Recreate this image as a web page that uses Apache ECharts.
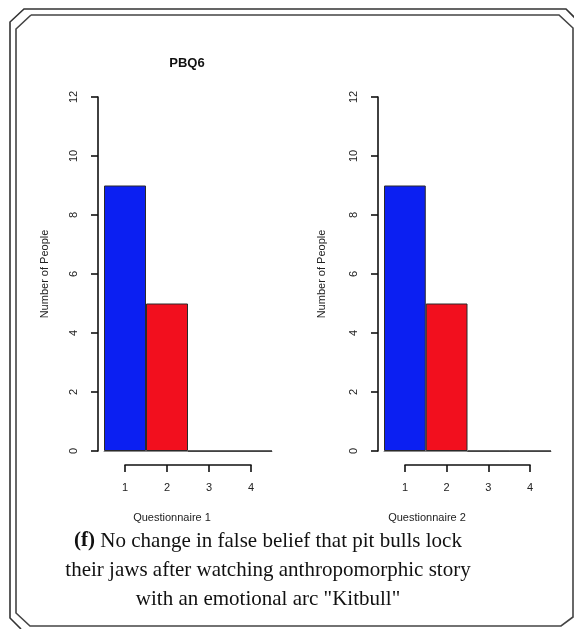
<!DOCTYPE html>
<html>
<head>
<meta charset="utf-8">
<script src="https://cdn.jsdelivr.net/npm/echarts@6/dist/echarts.min.js"></script>
<style>
  html, body { margin: 0; padding: 0; background: #fff; }
  #chart { width: 574px; height: 629px; }
</style>
</head>
<body>
<div id="chart"></div>
<script>
// Response counts per answer option (1-4) for PBQ6
const categories = ['1', '2', '3', '4'];
const questionnaire1 = [9, 5, 0, 0];
const questionnaire2 = [9, 5, 0, 0];
const xTickValues = [1, 2, 3, 4];
const panelNames = ['Questionnaire 1', 'Questionnaire 2'];
const plotTitle = 'PBQ6';
const yName = 'Number of People';

const BLUE = '#0b1ff2';
const RED = '#f20f1e';
const sans = '"Liberation Sans", Arial, sans-serif';
const serif = '"Liberation Serif", "Times New Roman", serif';

// panel geometry: bar grid + offset tick axis below it
const panels = [
  { left: 104, width: 168, tickLeft: 125, tickWidth: 126, data: questionnaire1, nameX: 172, yNameX: 45 },
  { left: 384, width: 167, tickLeft: 405, tickWidth: 125, data: questionnaire2, nameX: 427, yNameX: 322 }
];
const TOP = 97, HEIGHT = 354;

const grid = [], xAxis = [], yAxis = [], series = [];
panels.forEach((p, i) => {
  // bar grid
  grid.push({ left: p.left, top: TOP, width: p.width, height: HEIGHT });
  // tick axis grid (flat, sits below the bars)
  grid.push({ left: p.tickLeft, top: 464, width: p.tickWidth, height: 1 });

  xAxis.push({
    type: 'category', gridIndex: 2 * i, data: categories,
    boundaryGap: true,
    axisLine: { show: true, lineStyle: { color: '#8a8a8a', width: 1 } },
    axisTick: { show: false }, axisLabel: { show: false }
  });
  xAxis.push({
    type: 'value', gridIndex: 2 * i + 1,
    min: xTickValues[0], max: xTickValues[xTickValues.length - 1], interval: 1,
    position: 'bottom',
    axisLine: { show: true, lineStyle: { color: '#111', width: 1.6 } },
    axisTick: { show: true, length: 7, lineStyle: { color: '#111', width: 1.6 } },
    axisLabel: { show: true, margin: 17, color: '#222', fontFamily: sans, fontSize: 11 },
    splitLine: { show: false }
  });

  yAxis.push({
    type: 'value', gridIndex: 2 * i, min: 0, max: 12, interval: 2,
    offset: 6,
    axisLine: { show: true, lineStyle: { color: '#111', width: 1.6 } },
    axisTick: { show: true, length: 7, lineStyle: { color: '#111', width: 1.6 } },
    axisLabel: { rotate: 90, margin: 19, color: '#222', fontFamily: sans, fontSize: 11 },
    splitLine: { show: false }
  });
  yAxis.push({
    type: 'value', gridIndex: 2 * i + 1, show: false
  });

  series.push({
    type: 'bar', xAxisIndex: 2 * i, yAxisIndex: 2 * i,
    barWidth: '100%',
    data: p.data.map((v, k) => ({
      value: v,
      itemStyle: { color: k === 0 ? BLUE : k === 1 ? RED : '#fff' }
    })),
    itemStyle: { borderColor: '#2a2a2a', borderWidth: 1 },
    silent: true
  });
});

// double frame with chamfered corners
const graphic = [
  { type: 'polyline', shape: { points: [[21, 629], [10, 618], [10, 22], [24, 9], [566, 9], [585, 28]] },
    style: { stroke: '#333', lineWidth: 1.6, fill: null } },
  { type: 'polyline', shape: { points: [[31, 15], [559, 15], [573, 28], [573, 617], [561, 626], [30, 626], [16, 613], [16, 29], [31, 15]] },
    style: { stroke: '#444', lineWidth: 1.6, fill: null } },
  { type: 'text', x: 187, y: 63,
    style: { text: plotTitle, font: 'bold 13px ' + sans, fill: '#111', align: 'center', verticalAlign: 'middle' } },
  { type: 'text', x: panels[0].yNameX, y: 274, rotation: Math.PI / 2,
    style: { text: yName, font: '11px ' + sans, fill: '#222', align: 'center', verticalAlign: 'middle' } },
  { type: 'text', x: panels[1].yNameX, y: 274, rotation: Math.PI / 2,
    style: { text: yName, font: '11px ' + sans, fill: '#222', align: 'center', verticalAlign: 'middle' } },
  { type: 'text', x: panels[0].nameX, y: 518,
    style: { text: panelNames[0], font: '11px ' + sans, fill: '#222', align: 'center', verticalAlign: 'middle' } },
  { type: 'text', x: panels[1].nameX, y: 518,
    style: { text: panelNames[1], font: '11px ' + sans, fill: '#222', align: 'center', verticalAlign: 'middle' } },
  { type: 'text', x: 268, y: 570,
    style: {
      text: '{b|(f)} No change in false belief that pit bulls lock\ntheir jaws after watching anthropomorphic story\nwith an emotional arc "Kitbull"',
      fontFamily: serif, fontSize: 21, lineHeight: 29, fill: '#111',
      align: 'center', verticalAlign: 'middle',
      rich: { b: { fontFamily: serif, fontSize: 21, fontWeight: 'bold', lineHeight: 29, fill: '#111' } }
    } }
];

const chart = echarts.init(document.getElementById('chart'), null, { renderer: 'canvas' });
chart.setOption({
  animation: false,
  backgroundColor: '#fff',
  grid, xAxis, yAxis, series, graphic
});
</script>
</body>
</html>
